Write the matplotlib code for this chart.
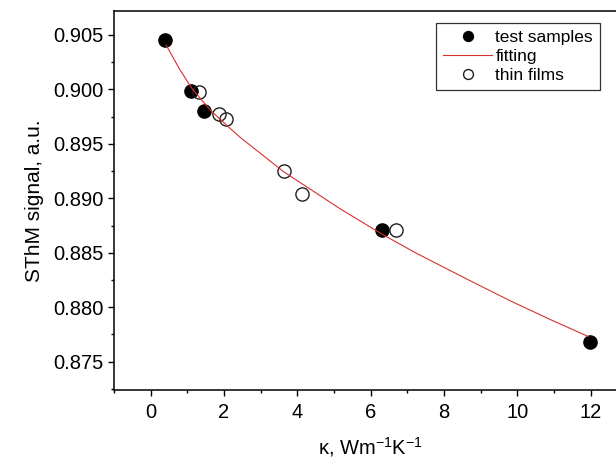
import matplotlib
matplotlib.use('Agg')
import matplotlib.pyplot as plt
from matplotlib.ticker import MultipleLocator, FormatStrFormatter

plt.rcParams['font.family'] = ['Liberation Sans', 'DejaVu Sans']
plt.rcParams['mathtext.fontset'] = 'custom'
plt.rcParams['mathtext.rm'] = 'Liberation Sans'
plt.rcParams['mathtext.it'] = 'Liberation Sans'

# test samples (filled)
test_k = [0.39, 1.10, 1.46, 6.32, 11.99]
test_signal = [0.90450, 0.89990, 0.89800, 0.88711, 0.87683]

# thin films (open)
film_k = [1.33, 1.87, 2.05, 3.64, 4.14, 6.69]
film_signal = [0.89975, 0.89770, 0.89725, 0.89255, 0.89040, 0.88705]

# fitting curve
fit_k = [0.42, 0.80, 1.12, 1.62, 2.16, 2.44, 3.62, 5.16, 6.34,
         7.25, 8.66, 9.80, 10.95, 11.93]
fit_signal = [0.90408, 0.90179, 0.90011, 0.89812, 0.89644, 0.89560,
              0.89246, 0.88905, 0.88665, 0.88495, 0.88252,
              0.88060, 0.87879, 0.87732]

fig = plt.figure(figsize=(6.16, 4.66), dpi=100)
ax = fig.add_axes([0.1851, 0.1631, 0.8333, 0.8133])

ax.plot(test_k, test_signal, 'o', color='black', ms=9.5,
        label='test samples', zorder=2)
ax.plot(fit_k, fit_signal, '-', color='#d83030', lw=0.8,
        label='fitting', zorder=3)
ax.plot(film_k, film_signal, 'o', mfc='none', mec='#202020', mew=1.0,
        ms=9.5, label='thin films', zorder=2)

ax.set_xlim(-1, 13)
ax.set_ylim(0.8724, 0.9072)

ax.xaxis.set_major_locator(MultipleLocator(2))
ax.xaxis.set_minor_locator(MultipleLocator(1))
ax.yaxis.set_major_locator(MultipleLocator(0.005))
ax.yaxis.set_minor_locator(MultipleLocator(0.0025))
ax.yaxis.set_major_formatter(FormatStrFormatter('%.3f'))

ax.tick_params(which='major', direction='out', length=4.5, width=1.0,
               labelsize=14.5, color='black')
ax.tick_params(which='minor', direction='out', length=2.5, width=1.0)
ax.tick_params(axis='x', which='major', pad=5)
ax.tick_params(axis='y', which='major', pad=3)

for side in ['left', 'bottom', 'top']:
    ax.spines[side].set_linewidth(1.1)
ax.spines['right'].set_visible(False)

ax.set_xlabel(r'κ, Wm$^{-1}$K$^{-1}$', fontsize=14.5, labelpad=9)
ax.set_ylabel('SThM signal, a.u.', fontsize=15, labelpad=7)

leg = ax.legend(loc='upper left', bbox_to_anchor=(0.628, 0.968),
                fontsize=12.5, frameon=True, fancybox=False,
                edgecolor='black', markerscale=0.75, handlelength=2.8,
                labelspacing=0.22, borderpad=0.4, handletextpad=0.2,
                borderaxespad=0)
leg.get_frame().set_linewidth(0.9)

fig.savefig('out.png', dpi=100)
